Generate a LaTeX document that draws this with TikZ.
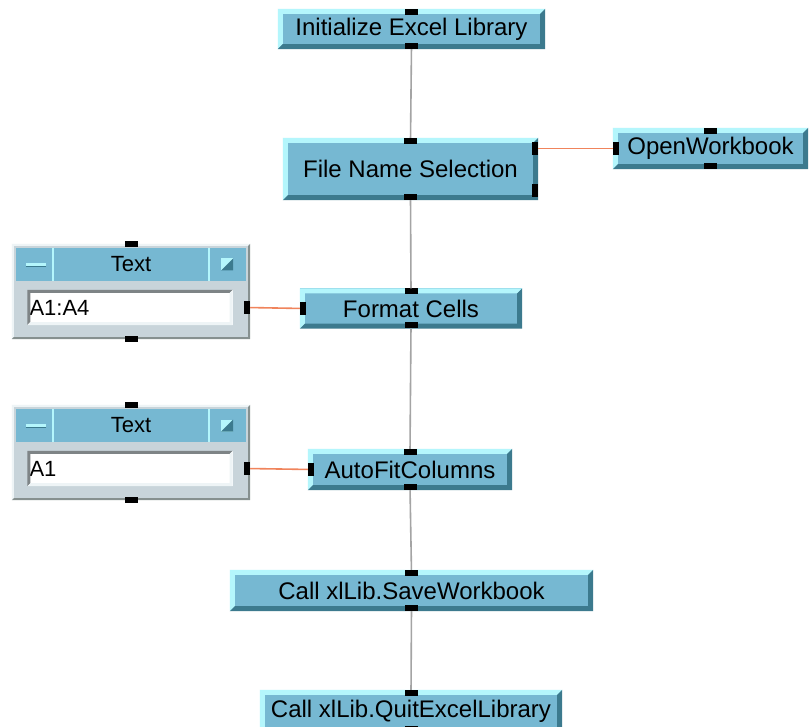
\documentclass[tikz,border=0pt]{standalone}
\usepackage{fontspec}
\setmainfont{Liberation Sans}
\usetikzlibrary{positioning}

\definecolor{face}{HTML}{76B8D2}
\definecolor{lite}{HTML}{B4F6FC}
\definecolor{lowedge}{HTML}{3C7A8E}
\definecolor{panelbg}{HTML}{C8D4DA}
\definecolor{panelhi}{HTML}{EEF4F6}
\definecolor{panello}{HTML}{86908F}
\definecolor{sunk}{HTML}{7E8486}
\definecolor{wirecol}{HTML}{F0845C}
\definecolor{seqcol}{HTML}{A4A4A4}

% raised / sunken edge around a node: name, width, top-left colour, bottom-right colour
\newcommand{\bevel}[4]{%
  \fill[#3] (#1.north west) -- (#1.north east) -- ([shift={(-#2,-#2)}]#1.north east)
    -- ([shift={(#2,-#2)}]#1.north west) -- ([shift={(#2,#2)}]#1.south west) -- (#1.south west) -- cycle;
  \fill[#4] (#1.south east) -- (#1.south west) -- ([shift={(#2,#2)}]#1.south west)
    -- ([shift={(-#2,#2)}]#1.south east) -- ([shift={(-#2,-#2)}]#1.north east) -- (#1.north east) -- cycle;
}

% text constant box: name, x, y, value
\newcommand{\textobj}[4]{%
  \node[panel] (#1) at (#2,#3) {};
  \bevel{#1}{2pt}{panelhi}{panello}
  \node[titlebar] (#1-bar) at ([yshift=27pt]#1.center) {Text};
  \draw[lite, line width=1.5pt] ([xshift=37pt]#1-bar.north west) -- ([xshift=37pt]#1-bar.south west);
  \draw[lite, line width=1.5pt] ([xshift=-37pt]#1-bar.north east) -- ([xshift=-37pt]#1-bar.south east);
  % minimise and resize buttons
  \fill[lite] ([shift={(10pt,1.5pt)}]#1-bar.west) rectangle ([shift={(30pt,-1.5pt)}]#1-bar.west);
  \fill[lowedge] ([shift={(10pt,-1.5pt)}]#1-bar.west) rectangle ([shift={(30pt,-2.5pt)}]#1-bar.west);
  \fill[lite] ([shift={(-25pt,6pt)}]#1-bar.east) rectangle ([shift={(-13pt,-6pt)}]#1-bar.east);
  \fill[lowedge] ([shift={(-13pt,6pt)}]#1-bar.east) -- ([shift={(-13pt,-6pt)}]#1-bar.east)
    -- ([shift={(-25pt,-6pt)}]#1-bar.east) -- cycle;
  \node[entry] (#1-val) at ([shift={(-1pt,-16pt)}]#1.center) {#4};
  \bevel{#1-val}{3pt}{sunk}{panelhi}
  \node[pin] at (#1.north) {};
  \node[pin] at (#1.south) {};
  \node[vpin, anchor=east] (#1-d) at (#1.east |- #1-val.east) {};
}

\begin{document}
\begin{tikzpicture}[x=1pt, y=-1pt,
    vobj/.style={fill=face, inner sep=0pt, minimum height=40pt,
      font=\fontsize{24}{28}\selectfont},
    pin/.style={fill=black, inner sep=0pt, minimum width=13pt, minimum height=6pt},
    vpin/.style={fill=black, inner sep=0pt, minimum width=6pt, minimum height=13pt},
    panel/.style={fill=panelbg, inner sep=0pt, minimum width=238pt, minimum height=95pt},
    titlebar/.style={fill=face, inner sep=0pt, minimum width=230pt, minimum height=33pt,
      font=\fontsize{22}{26}\selectfont},
    entry/.style={fill=white, inner xsep=2pt, inner ysep=0pt, text width=201pt,
      minimum height=35pt, align=left, font=\fontsize{22}{26}\selectfont},
    seq/.style={seqcol, line width=1.6pt},
    data/.style={wirecol, line width=1.6pt}]
    \useasboundingbox (0,0) rectangle (809,727);
    \fill[white] (0,0) rectangle (809,727);

    % sequence of library calls
    \node[vobj, minimum width=267pt] (init) at (411.5,29) {Initialize Excel Library};
    \node[vobj, minimum width=255pt, minimum height=62pt] (fname) at (410.5,169) {File Name Selection};
    \node[vobj, minimum width=195pt, minimum height=41pt] (openwb) at (710.5,148.5) {OpenWorkbook};
    \node[vobj, minimum width=222pt] (fmt) at (411,308.5) {Format Cells};
    \node[vobj, minimum width=204pt, minimum height=41pt] (autofit) at (410,469.5) {AutoFitColumns};
    \node[vobj, minimum width=363pt, minimum height=41pt] (save) at (411.5,590.5) {Call xlLib.SaveWorkbook};
    \node[vobj, minimum width=302pt, minimum height=42pt] (quit) at (411,711) {Call xlLib.QuitExcelLibrary};
    \foreach \n in {init,fname,openwb,fmt,autofit,save,quit} {
      \bevel{\n}{5pt}{lite}{lowedge}
      \node[pin, anchor=north] (\n-in) at (\n.north) {};
      \node[pin, anchor=south] (\n-out) at (\n.south) {};
    }

    % data pins
    \node[vpin, anchor=north east] (fname-d1) at ([yshift=-4pt]fname.north east) {};
    \node[vpin, anchor=south east] (fname-d2) at ([yshift=3pt]fname.south east) {};
    \node[vpin, anchor=west] (openwb-d) at (openwb.west) {};
    \node[vpin, anchor=west] (fmt-d) at (fmt.west) {};
    \node[vpin, anchor=west] (autofit-d) at (autofit.west) {};

    % constant inputs
    \textobj{txta}{131}{291.5}{A1:A4}
    \textobj{txtb}{131}{452.5}{A1}

    \draw[seq] (init-out) -- (fname-in);
    \draw[seq] (fname-out) -- (fmt-in);
    \draw[seq] (fmt-out) -- (autofit-in);
    \draw[seq] (autofit-out) -- (save-in);
    \draw[seq] (save-out) -- (quit-in);

    \draw[data] (fname-d1) -- (openwb-d);
    \draw[data] (txta-d) -- (fmt-d);
    \draw[data] (txtb-d) -- (autofit-d);
\end{tikzpicture}
\end{document}
